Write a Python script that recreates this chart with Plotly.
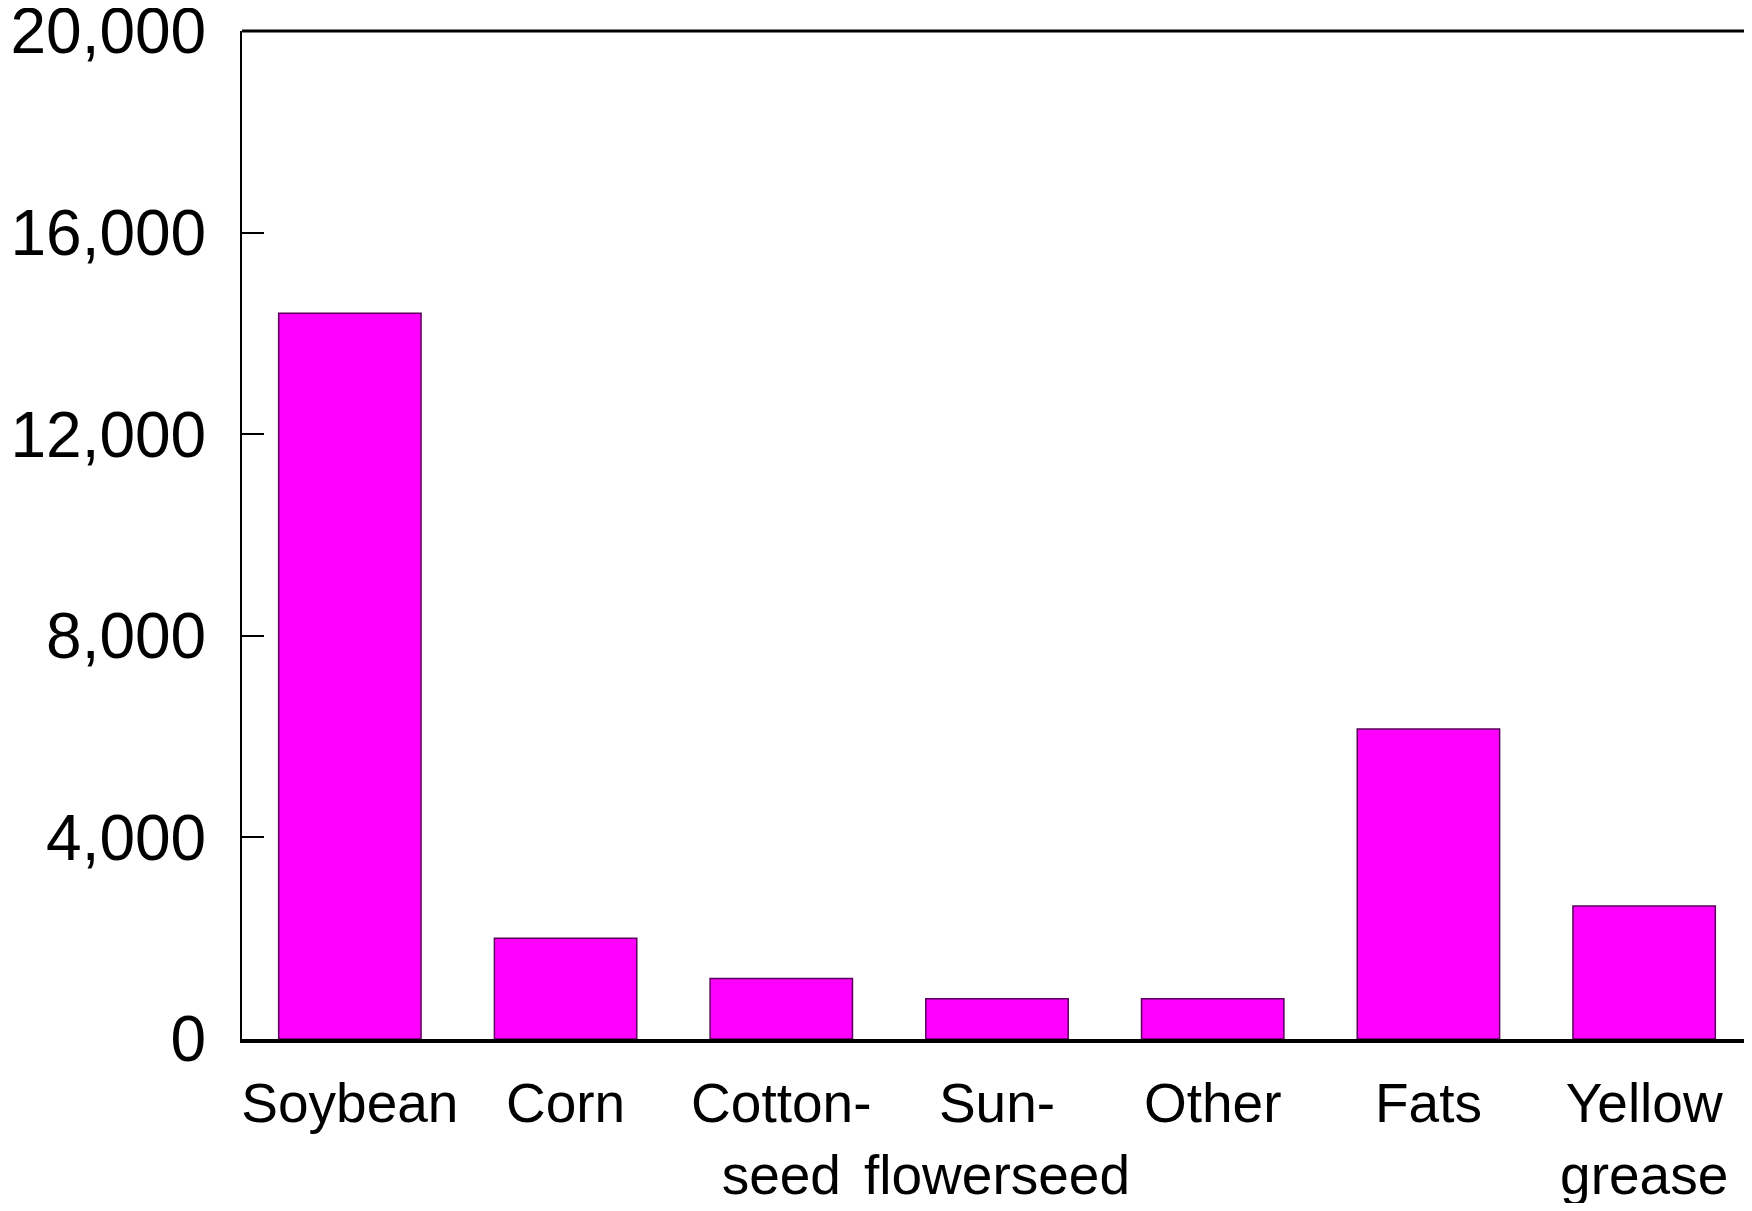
import plotly.graph_objects as go

categories = ["Soybean", "Corn", "Cotton-<br>seed", "Sun-<br>flowerseed", "Other", "Fats", "Yellow<br>grease"]
values = [14400, 2000, 1200, 800, 800, 6150, 2640]
y_tick_vals = [0, 4000, 8000, 12000, 16000, 20000]
y_tick_text = ["0", "4,000", "8,000", "12,000", "16,000", "20,000"]

font_family = "Liberation Sans, Arial, Helvetica, sans-serif"

fig = go.Figure()
fig.add_trace(go.Bar(
    x=categories,
    y=values,
    width=0.66,
    marker=dict(color="#FF00FF", line=dict(color="#5a005a", width=1.5)),
))

fig.update_layout(
    width=1744,
    height=1195,
    margin=dict(l=234, r=0, t=23, b=164),
    paper_bgcolor="white",
    plot_bgcolor="white",
    showlegend=False,
    bargap=0.34,
    font=dict(family=font_family, color="black"),
    xaxis=dict(
        range=[-0.5, 6.5],
        showline=True,
        linecolor="black",
        linewidth=4,
        showgrid=False,
        zeroline=False,
        ticks="",
        tickangle=0,
        automargin=False,
        tickfont=dict(size=55, family=font_family, color="black"),
        ticklabelstandoff=13,
        ticklabeloverflow="allow",
    ),
    yaxis=dict(
        range=[0, 20000],
        tickvals=y_tick_vals,
        ticktext=y_tick_text,
        showline=True,
        linecolor="black",
        linewidth=2,
        showgrid=False,
        zeroline=False,
        ticks="inside",
        ticklen=22,
        tickwidth=2,
        tickcolor="black",
        automargin=False,
        tickfont=dict(size=64, family=font_family, color="black"),
        ticklabelstandoff=21,
        ticklabeloverflow="allow",
    ),
    shapes=[dict(type="line", xref="paper", yref="paper", x0=0, x1=1, y0=1, y1=1,
                 line=dict(color="black", width=3))],
)

fig.write_html("out.html")
